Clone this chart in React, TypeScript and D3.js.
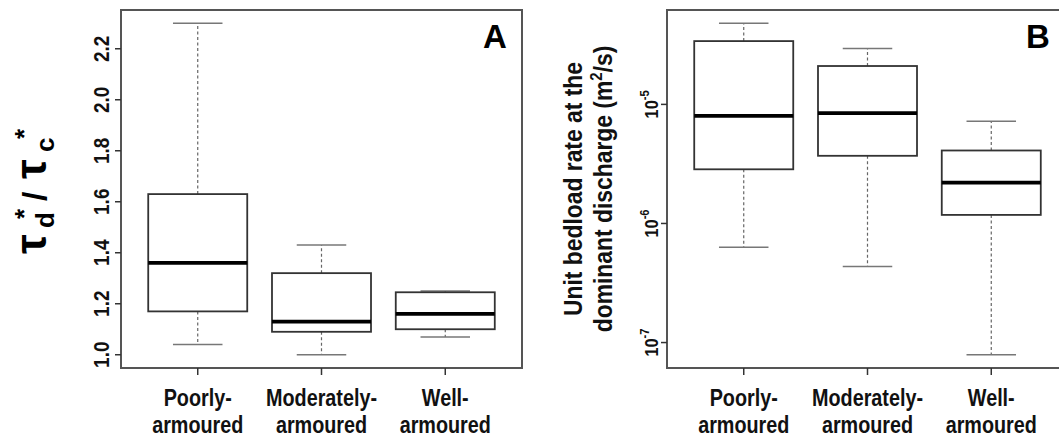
import React from "react";
import * as d3 from "d3";

// ---------- data ----------
const categories = ["Poorly-|armoured", "Moderately-|armoured", "Well-|armoured"];

// Panel A: tau_d*/tau_c*
const aLow = [1.04, 1.0, 1.07];
const aQ1 = [1.17, 1.09, 1.1];
const aMed = [1.36, 1.13, 1.16];
const aQ3 = [1.63, 1.32, 1.245];
const aHigh = [2.3, 1.43, 1.25];
const aTicks = [1.0, 1.2, 1.4, 1.6, 1.8, 2.0, 2.2];

// Panel B: unit bedload rate (m2/s)
const bLow = [6.3e-7, 4.35e-7, 7.9e-8];
const bQ1 = [2.85e-6, 3.7e-6, 1.18e-6];
const bMed = [8.0e-6, 8.45e-6, 2.2e-6];
const bQ3 = [3.4e-5, 2.1e-5, 4.1e-6];
const bHigh = [4.8e-5, 2.95e-5, 7.2e-6];
const bTickExp = [-5, -6, -7];

const FONT = "'Liberation Sans', Arial, Helvetica, sans-serif";
const SQ = 0.86; // horizontal squeeze to mimic the narrow face

type BoxProps = {
  x: d3.ScaleLinear<number, number>;
  y: (v: number) => number;
  low: number[];
  q1: number[];
  med: number[];
  q3: number[];
  high: number[];
};

function Boxes({ x, y, low, q1, med, q3, high }: BoxProps) {
  return (
    <g>
      {categories.map((c, i) => {
        const cx = x(i + 1);
        const bl = x(i + 1 - 0.4);
        const br = x(i + 1 + 0.4);
        const sl = x(i + 1 - 0.2);
        const sr = x(i + 1 + 0.2);
        return (
          <g key={c}>
            <line x1={cx} x2={cx} y1={y(q3[i])} y2={y(high[i])} stroke="#666" strokeWidth={1.2} strokeDasharray="3,2.5" />
            <line x1={cx} x2={cx} y1={y(q1[i])} y2={y(low[i])} stroke="#666" strokeWidth={1.2} strokeDasharray="3,2.5" />
            <line x1={sl} x2={sr} y1={y(high[i])} y2={y(high[i])} stroke="#777" strokeWidth={1.5} />
            <line x1={sl} x2={sr} y1={y(low[i])} y2={y(low[i])} stroke="#777" strokeWidth={1.5} />
            <rect x={bl} y={y(q3[i])} width={br - bl} height={y(q1[i]) - y(q3[i])} fill="white" stroke="#333" strokeWidth={1.8} />
            <line x1={bl} x2={br} y1={y(med[i])} y2={y(med[i])} stroke="#000" strokeWidth={3.8} />
          </g>
        );
      })}
    </g>
  );
}

function XAxis({ x, bottom }: { x: d3.ScaleLinear<number, number>; bottom: number }) {
  return (
    <g>
      {categories.map((c, i) => {
        const cx = x(i + 1);
        const [l1, l2] = c.split("|");
        return (
          <g key={c}>
            <line x1={cx} x2={cx} y1={bottom} y2={bottom + 7} stroke="#333" strokeWidth={1.5} />
            <text transform={`translate(${cx},405.5) scale(${SQ},1)`} textAnchor="middle" fontFamily={FONT} fontWeight="bold" fontSize={23} fill="#111">{l1}</text>
            <text transform={`translate(${cx},433) scale(${SQ},1)`} textAnchor="middle" fontFamily={FONT} fontWeight="bold" fontSize={23} fill="#111">{l2}</text>
          </g>
        );
      })}
    </g>
  );
}

export default function App() {
  const top = 10;
  const bottom = 368;
  const n = categories.length;
  const xDom: [number, number] = [0.5 - 0.04 * n, n + 0.5 + 0.04 * n];

  // Panel A
  const aL = 121, aR = 522;
  const xA = d3.scaleLinear().domain(xDom).range([aL, aR]);
  const aMin = d3.min(aLow)!, aMax = d3.max(aHigh)!;
  const aPad = (aMax - aMin) * 0.04;
  const yA = d3.scaleLinear().domain([aMin - aPad, aMax + aPad]).range([bottom, top]);

  // Panel B
  const bL = 667, bR = 1068;
  const xB = d3.scaleLinear().domain(xDom).range([bL, bR]);
  const lMin = Math.log10(d3.min(bLow)!), lMax = Math.log10(d3.max(bHigh)!);
  const lPad = (lMax - lMin) * 0.04;
  const yB = d3.scaleLog().domain([Math.pow(10, lMin - lPad), Math.pow(10, lMax + lPad)]).range([bottom, top]);

  return (
    <svg width={1059} height={439} style={{ position: "absolute", left: 0, top: 0, background: "white" }}>
      <rect x={0} y={0} width={1059} height={439} fill="white" />

      {/* ---------- Panel A ---------- */}
      <Boxes x={xA} y={yA} low={aLow} q1={aQ1} med={aMed} q3={aQ3} high={aHigh} />
      <rect x={aL} y={top} width={aR - aL} height={bottom - top} fill="none" stroke="#555" strokeWidth={2} />
      {aTicks.map((t) => (
        <g key={t}>
          <line x1={aL - 6} x2={aL} y1={yA(t)} y2={yA(t)} stroke="#333" strokeWidth={1.5} />
          <text transform={`translate(108.5,${yA(t)}) rotate(-90) scale(${SQ},1)`} textAnchor="middle" fontFamily={FONT} fontWeight="bold" fontSize={22} fill="#111">
            {t.toFixed(1)}
          </text>
        </g>
      ))}
      <XAxis x={xA} bottom={bottom} />
      <text x={495} y={48} textAnchor="middle" fontFamily={FONT} fontWeight="bold" fontSize={33} fill="#000">A</text>

      {/* y title A */}
      <g transform="translate(0,253) rotate(-90)" fontFamily={FONT} fontWeight="bold" fill="#000">
        <text x={-1} y={46} fontSize={44}>τ</text>
        <text x={25} y={54} fontSize={26}>d</text>
        <text x={34} y={33} fontSize={26}>*</text>
        <text x={52} y={46} fontSize={34}>/</text>
        <text x={74} y={46} fontSize={44}>τ</text>
        <text x={101} y={54} fontSize={26}>c</text>
        <text x={114} y={33} fontSize={26}>*</text>
      </g>

      {/* ---------- Panel B ---------- */}
      <Boxes x={xB} y={(v: number) => yB(v)} low={bLow} q1={bQ1} med={bMed} q3={bQ3} high={bHigh} />
      <rect x={bL} y={top} width={bR - bL} height={bottom - top} fill="none" stroke="#555" strokeWidth={2} />
      {bTickExp.map((e) => {
        const ty = yB(Math.pow(10, e));
        return (
          <g key={e}>
            <line x1={bL - 6} x2={bL} y1={ty} y2={ty} stroke="#333" strokeWidth={1.5} />
            <text transform={`translate(657.5,${ty}) rotate(-90) scale(${SQ},1)`} textAnchor="middle" fontFamily={FONT} fontWeight="bold" fontSize={19} fill="#111">
              10<tspan fontSize={13} dy={-8.5}>{String(e)}</tspan>
            </text>
          </g>
        );
      })}
      <XAxis x={xB} bottom={bottom} />
      <text x={1038} y={48} textAnchor="middle" fontFamily={FONT} fontWeight="bold" fontSize={33} fill="#000">B</text>

      <g transform="translate(0,189) rotate(-90) scale(0.88,1)" fontFamily={FONT} fontWeight="bold" fontSize={26} fill="#111" textAnchor="middle">
        <text x={0} y={582}>Unit bedload rate at the</text>
        <text x={0} y={612}>
          dominant discharge (m<tspan fontSize={17} dy={-10}>2</tspan><tspan dy={10}>/s)</tspan>
        </text>
      </g>
    </svg>
  );
}
